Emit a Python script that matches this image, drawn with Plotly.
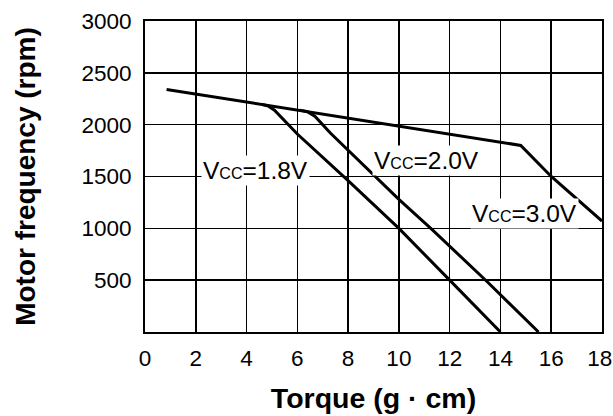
import plotly.graph_objects as go

# Data
x_30 = [0.85, 4.7, 6.1, 14.5, 14.8, 16.0, 18.0]
y_30 = [2340, 2190, 2140, 1815, 1800, 1500, 1070]

x_18 = [4.6, 4.85, 5.1, 6.0, 8.0, 10.0, 12.0, 14.0]
y_18 = [2196, 2180, 2140, 1910, 1460, 1000, 500, 0]

x_20 = [6.1, 6.4, 6.7, 7.3, 10.0, 11.3, 13.5, 15.5]
y_20 = [2140, 2125, 2080, 1920, 1280, 990, 480, 0]

x_ticks = [0, 2, 4, 6, 8, 10, 12, 14, 16, 18]
x_tick_text = ["0", "2", "4", "6", "8", "10", "12", "14", "16", "18\u2009"]
y_ticks = [500, 1000, 1500, 2000, 2500, 3000]

labels = ["1.8V", "2.0V", "3.0V"]
label_x = [4.35, 11.1, 14.93]
label_y = [1560, 1650, 1140]

FONT = "Liberation Sans, Arial, Helvetica, sans-serif"

fig = go.Figure()
for xs, ys in [(x_30, y_30), (x_18, y_18), (x_20, y_20)]:
    fig.add_trace(go.Scatter(x=xs, y=ys, mode="lines",
                             line=dict(color="black", width=3),
                             showlegend=False, hoverinfo="skip"))

for lab, lx, ly in zip(labels, label_x, label_y):
    fig.add_annotation(
        x=lx, y=ly, xref="x", yref="y", showarrow=False,
        text="V<span style='font-size:16px'>CC</span>=" + lab,
        font=dict(family=FONT, size=24.5, color="black"),
        bgcolor="white", borderpad=1, xanchor="center", yanchor="middle")

fig.update_xaxes(
    range=[0, 18], tickvals=x_ticks, ticktext=x_tick_text,
    showgrid=True, gridcolor="black", gridwidth=1.6,
    showline=True, linecolor="black", linewidth=2, mirror=True,
    zeroline=False, ticks="", ticklabelstandoff=5, ticklabeloverflow="allow",
    tickfont=dict(family=FONT, size=22.5, color="black"),
    title=dict(text="<b>Torque (g · cm)</b>", standoff=18,
               font=dict(family=FONT, size=28.5, color="black")))
fig.update_yaxes(
    range=[0, 3000], tickvals=y_ticks, ticktext=[str(v) for v in y_ticks],
    showgrid=True, gridcolor="black", gridwidth=1.6,
    showline=True, linecolor="black", linewidth=2, mirror=True,
    zeroline=False, ticks="", ticklabelstandoff=7,
    tickfont=dict(family=FONT, size=22.5, color="black"),
    title=dict(text="<b>Motor frequency (rpm)</b>", standoff=38,
               font=dict(family=FONT, size=28, color="black")))

fig.update_layout(
    width=613, height=416,
    margin=dict(l=145, r=11, t=21, b=84, autoexpand=False),
    plot_bgcolor="white", paper_bgcolor="white")

# remove the default page margin so the figure fills the window exactly
fig.write_html("out.html",
               config={"displayModeBar": False, "staticPlot": True},
               post_script="document.body.style.margin='0';"
                           "document.body.style.overflow='hidden';")
